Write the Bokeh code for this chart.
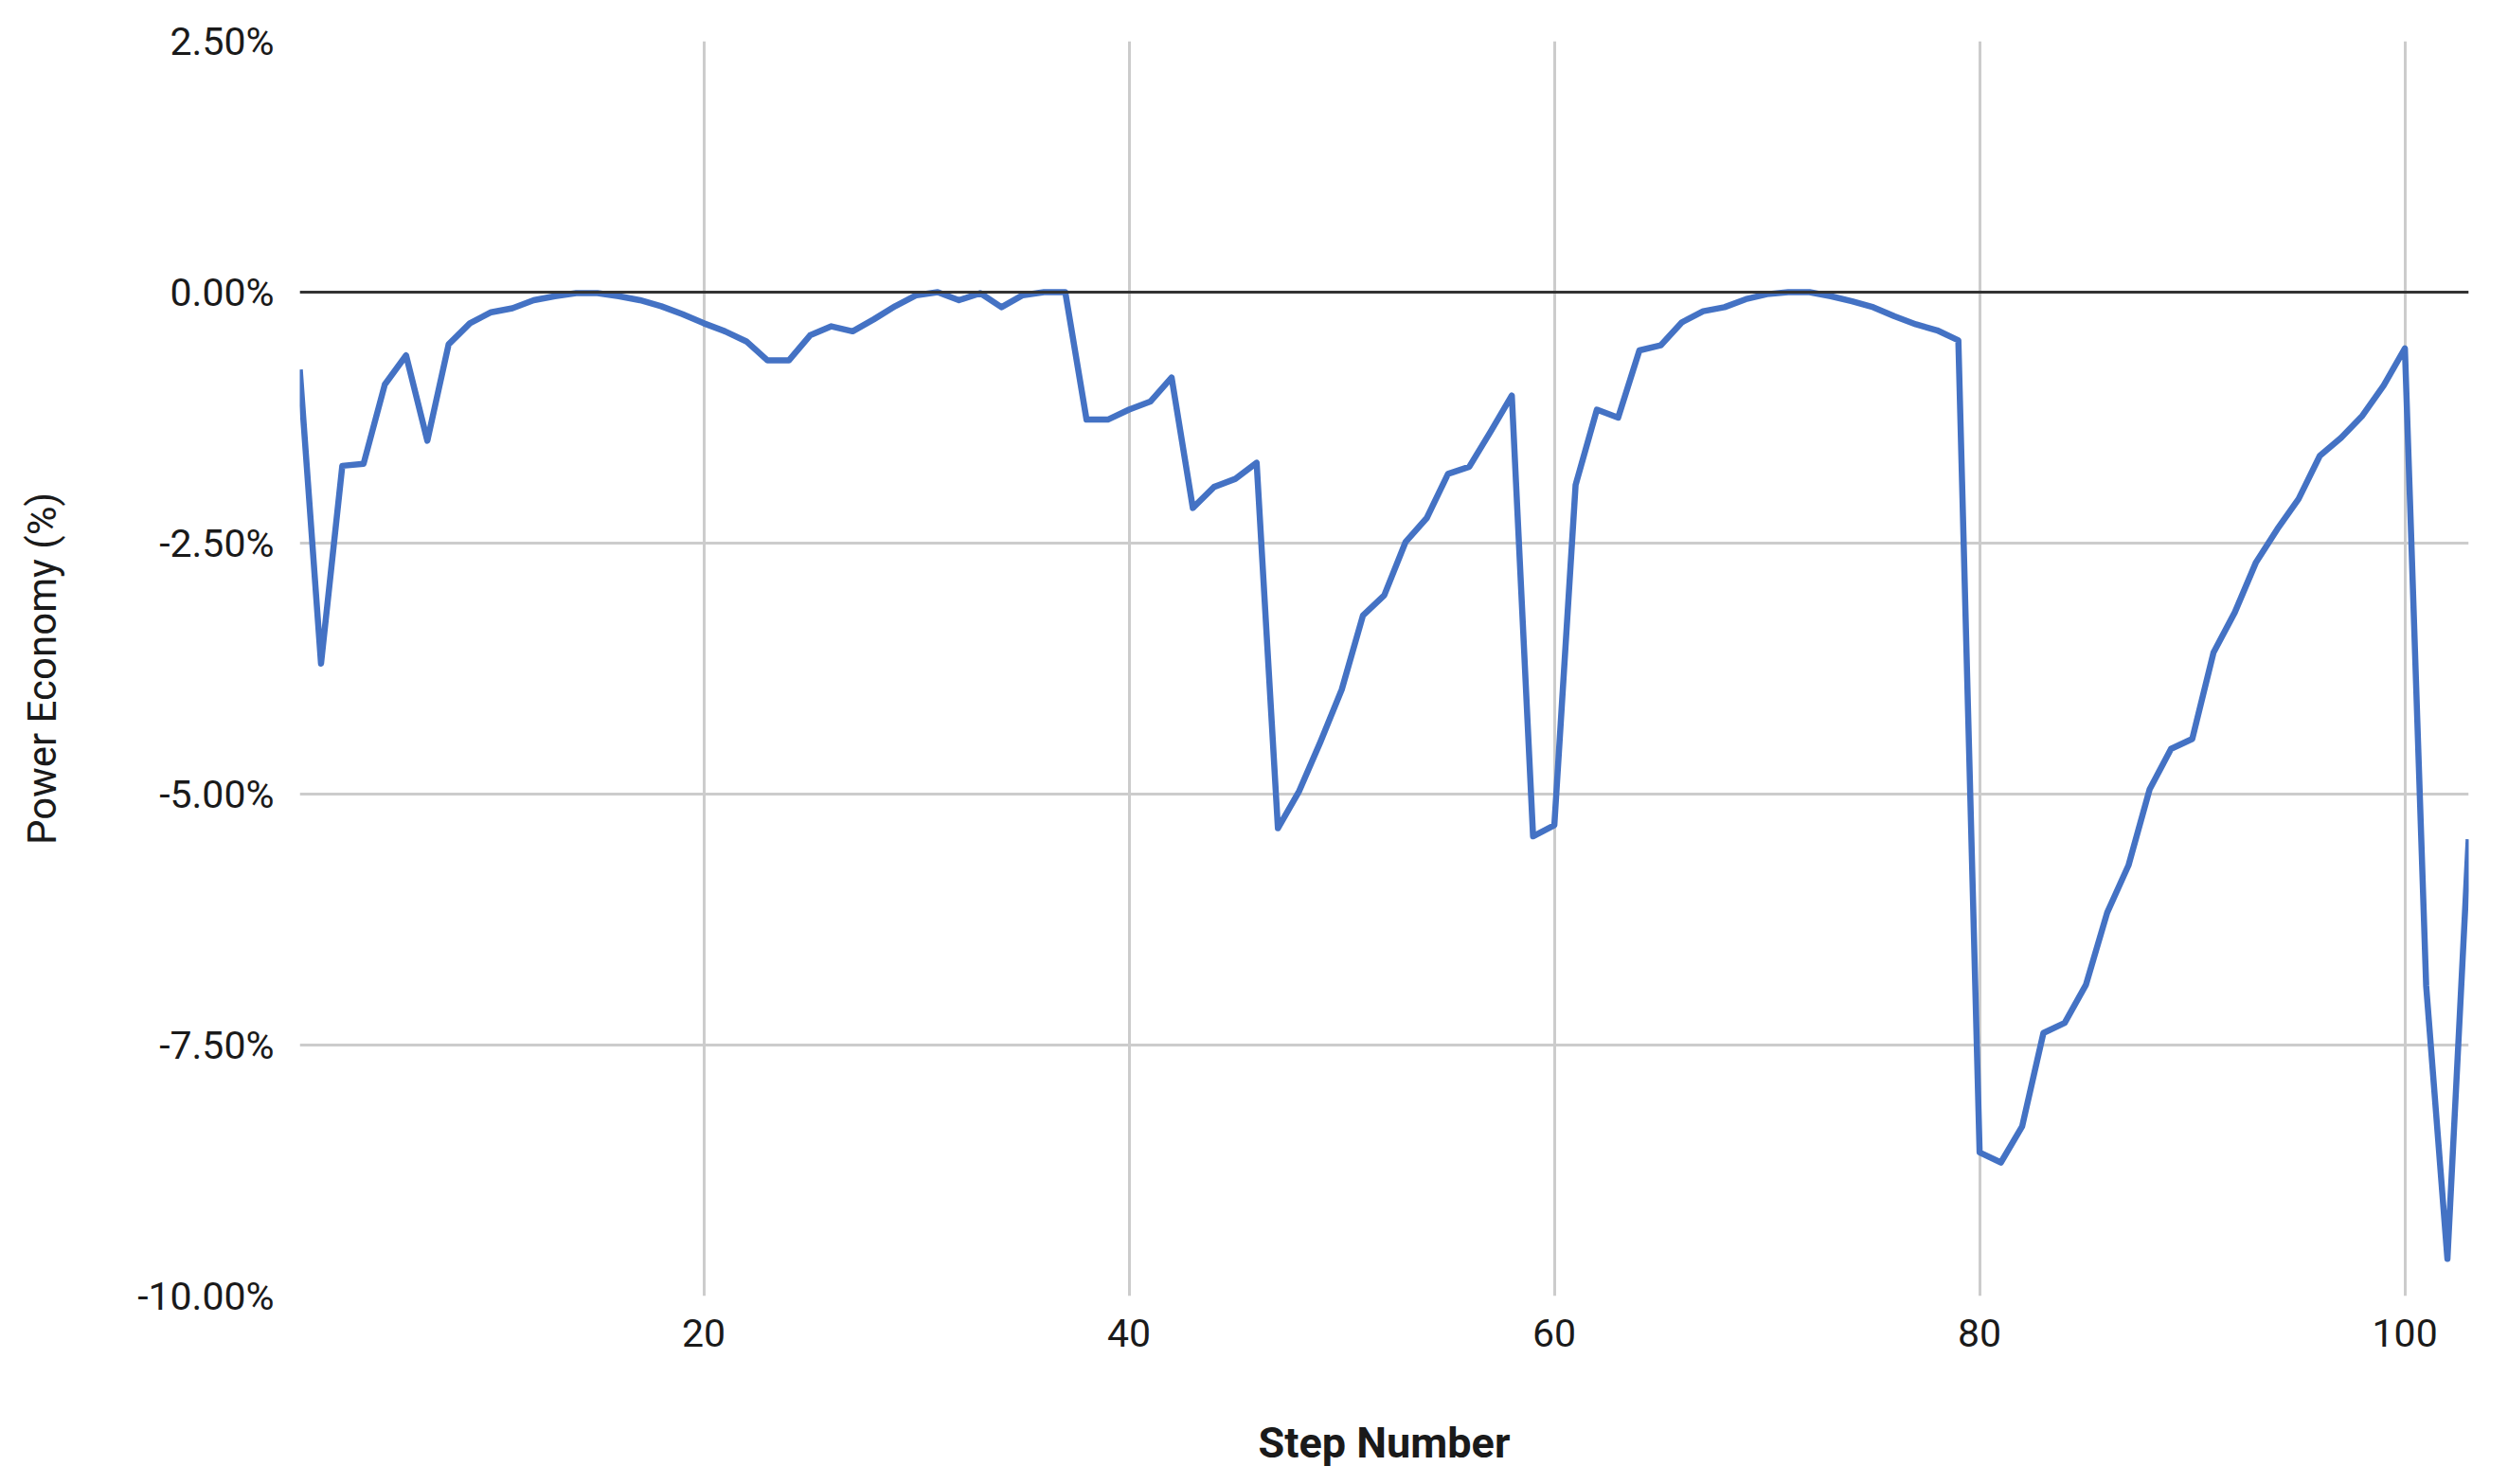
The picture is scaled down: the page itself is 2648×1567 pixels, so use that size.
from bokeh.plotting import figure
from bokeh.models import Range1d, FixedTicker, PrintfTickFormatter, Span
from bokeh.embed import file_html
from bokeh.resources import INLINE

steps = list(range(1, 104))
economy_pct = [
    -0.77, -3.70, -1.73, -1.71, -0.92, -0.63, -1.48, -0.52, -0.31, -0.20,
    -0.16, -0.08, -0.04, -0.01, -0.01, -0.04, -0.08, -0.14, -0.22, -0.31,
    -0.39, -0.49, -0.68, -0.68, -0.43, -0.34, -0.39, -0.27, -0.14, -0.03,
    0.00, -0.08, -0.01, -0.15, -0.03, 0.00, 0.00, -1.27, -1.27, -1.17,
    -1.09, -0.85, -2.15, -1.94, -1.86, -1.70, -5.34, -4.97, -4.48, -3.96,
    -3.22, -3.02, -2.49, -2.25, -1.81, -1.74, -1.39, -1.03, -5.42, -5.31,
    -1.92, -1.17, -1.25, -0.58, -0.53, -0.30, -0.19, -0.15, -0.07, -0.02,
    0.00, 0.00, -0.04, -0.09, -0.15, -0.24, -0.32, -0.38, -0.48, -8.57,
    -8.67, -8.31, -7.38, -7.28, -6.90, -6.18, -5.71, -4.95, -4.55, -4.45,
    -3.59, -3.19, -2.69, -2.36, -2.06, -1.63, -1.45, -1.23, -0.93, -0.56,
    -6.91, -9.63, -5.45,
]
x_ticks = [20, 40, 60, 80, 100]
y_ticks = [2.5, 0.0, -2.5, -5.0, -7.5, -10.0]

FONT = "Roboto"
TXT = "#1a1a1a"

p = figure(
    width=2636, height=1563,
    x_range=Range1d(1, 103), y_range=Range1d(-10, 2.5),
    output_backend="svg", toolbar_location=None,
    min_border_left=316, min_border_right=30, min_border_top=43, min_border_bottom=195,
)
p.outline_line_color = None
p.background_fill_color = "white"
p.border_fill_color = "white"

p.line(steps, economy_pct, line_color="#4472c4", line_width=6.5, line_join="round")

zero = Span(location=0, dimension="width", line_color="#333333", line_width=3)
p.add_layout(zero)

# grids
p.xgrid.ticker = FixedTicker(ticks=x_ticks)
p.ygrid.ticker = FixedTicker(ticks=y_ticks)
for g in (p.xgrid, p.ygrid):
    g.grid_line_color = "#cccccc"
    g.grid_line_width = 3

# axes
p.xaxis.ticker = FixedTicker(ticks=x_ticks)
p.yaxis.ticker = FixedTicker(ticks=y_ticks)
p.yaxis.formatter = PrintfTickFormatter(format="%.2f%%")
for ax in (p.xaxis, p.yaxis):
    ax.axis_line_color = None
    ax.major_tick_line_color = None
    ax.minor_tick_line_color = None
    ax.major_tick_in = 0
    ax.major_tick_out = 0
    ax.minor_tick_in = 0
    ax.minor_tick_out = 0
    ax.major_label_text_font = FONT
    ax.major_label_text_font_size = "41px"
    ax.major_label_text_color = TXT
    ax.axis_label_text_font = FONT
    ax.axis_label_text_color = TXT

p.yaxis.major_label_standoff = 27
p.xaxis.major_label_standoff = 24

p.xaxis.axis_label = "Step Number"
p.xaxis.axis_label_text_font_size = "45px"
p.xaxis.axis_label_text_font_style = "bold"
p.xaxis.axis_label_standoff = 72

p.yaxis.axis_label = "Power Economy (%)"
p.yaxis.axis_label_text_font_size = "42px"
p.yaxis.axis_label_text_font_style = "normal"
p.yaxis.axis_label_standoff = 73

open("out.html", "w").write(file_html(p, INLINE))
